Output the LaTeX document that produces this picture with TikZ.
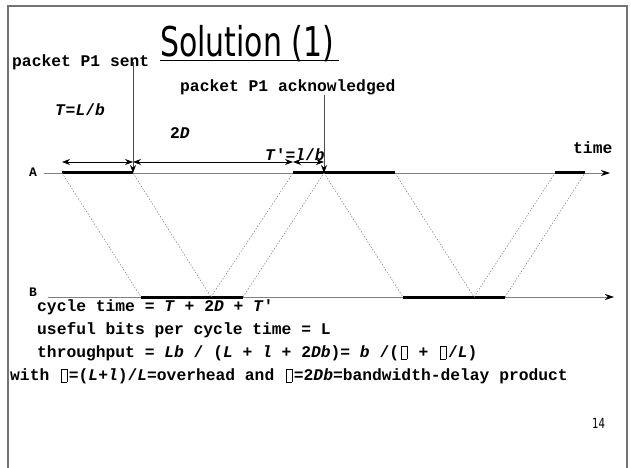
\documentclass[tikz,border=0pt]{standalone}
\usepackage{fontspec}
\setmonofont{Liberation Mono}
\newfontfamily\slidefont[FakeStretch=0.73]{DejaVu Sans}
\usetikzlibrary{arrows.meta}
\newcommand\nog{\makebox[9.8bp]{\setlength\fboxsep{0pt}\setlength\fboxrule{0.8bp}\fbox{\rule[-1.5bp]{0pt}{12bp}\hspace{5bp}}}}
\newcommand\iv[1]{\textit{#1}}

\begin{document}
\begin{tikzpicture}[x=1bp,y=-1bp,>=Stealth,
  every node/.style={font=\ttfamily\bfseries\fontsize{16.3bp}{18bp}\selectfont,inner sep=0pt,anchor=west},
  axis/.style={draw=gray,line width=0.8bp,-{Stealth[black,length=9bp,width=6bp]}},
  busy/.style={line width=3bp},
  prop/.style={draw=gray,line width=0.5bp,dash pattern=on 1.5bp off 1.5bp},
  pointer/.style={draw=black!70,line width=0.8bp,-{Stealth[black,length=8bp,width=6bp]}},
  dim/.style={line width=0.8bp,{Stealth[length=8bp,width=6bp]}-{Stealth[length=8bp,width=6bp]}}]
\useasboundingbox (0,0) rectangle (631,468);
\draw[black!55,line width=1.3bp] (8,6) rectangle (627,480);
\node[font=\slidefont\fontsize{41bp}{41bp}\selectfont,anchor=base west] (title) at (160,57) {Solution (1)};
\draw[line width=1.2bp] ([yshift=-3.5bp]title.base west) -- ([yshift=-3.5bp,xshift=5bp]title.base east);
\node (sent) at (12,62) {packet P1 sent};
\node (ack) at (180,87) {packet P1 acknowledged};
\node (tl) at (55,110) {\iv{T}=\iv{L}/\iv{b}};
\node (dd) at (170,133) {2\iv{D}};
\node (tp) at (265,155) {\iv{T}'=\iv{l}/\iv{b}};
\node (time) at (573,148) {time};
\node[font=\ttfamily\bfseries\fontsize{13bp}{13bp}\selectfont,anchor=center] (A) at (33,172) {A};
\node[font=\ttfamily\bfseries\fontsize{13bp}{13bp}\selectfont,anchor=center] (B) at (33,292) {B};
\coordinate (A0) at (44,173);
\coordinate (A1) at (610,173);
\coordinate (B0) at (48,297);
\coordinate (B1) at (614,297);
\foreach \n/\x in {1/62,2/133,3/293,4/324,5/395,6/555,7/585}
  \coordinate (a\n) at (\x,173);
\foreach \n/\x in {1/141,2/211,3/243,4/403,5/474,6/505}
  \coordinate (b\n) at (\x,297);
\draw[axis] (A0) -- (A1);
\draw[axis] (B0) -- (B1);
\draw[busy] (a1) -- (a2) (a3) -- (a5) (a6) -- (a7);
\draw[busy] (b1) -- (b3) (b4) -- (b6);
\foreach \p/\q in {a1/b1,a2/b2,b2/a3,b3/a4,a4/b4,a5/b5,b5/a6,b6/a7}
  \draw[prop] (\p) -- (\q);
\draw[pointer] (a2 |- sent) -- (a2);
\draw[pointer] (a4 |- ack.south) -- (a4);
\draw[dim] ([yshift=11bp]a1) -- ([yshift=11bp]a2);
\draw[dim] ([yshift=11bp]a2) -- ([yshift=11bp]a3);
\draw[dim] ([yshift=11bp]a3) -- ([yshift=11bp]a4);
\node (cyc) at (37,307) {cycle time = \iv{T} + 2\iv{D} + \iv{T}'};
\node (bits) at (37,330) {useful bits per cycle time = L};
\node (thr) at (37,353) {throughput = \iv{Lb} / (\iv{L} + \iv{l} + 2\iv{Db})= \iv{b} /(\nog{} + \nog/\iv{L})};
\node (with) at (10,376) {with \nog=(\iv{L}+\iv{l})/\iv{L}=overhead and \nog=2\iv{Db}=bandwidth-delay product};
\node[font=\slidefont\fontsize{14bp}{14bp}\selectfont] (num) at (592,423) {14};
\end{tikzpicture}
\end{document}
